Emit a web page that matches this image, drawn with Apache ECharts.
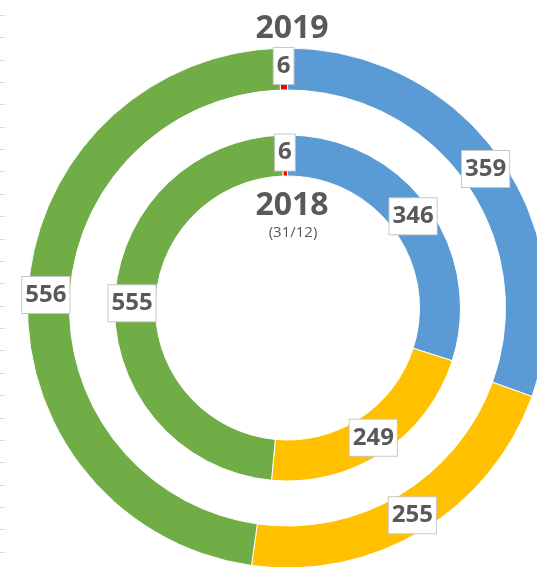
<!DOCTYPE html>
<html>
<head>
<meta charset="utf-8">
<script src="https://cdn.jsdelivr.net/npm/echarts@6/dist/echarts.min.js"></script>
<style>
html,body{margin:0;padding:0;background:#fff;}
#chart{width:537px;height:567px;}
</style>
</head>
<body>
<div id="chart"></div>
<script>
const categories = ['Blue', 'Yellow', 'Green', 'Red'];
const colors = ['#5B9BD5', '#FFC000', '#70AD47', '#FF0000'];
const values2019 = [359, 255, 556, 6];
const values2018 = [346, 249, 555, 6];
const title2019 = '2019';
const title2018 = '2018';
const subtitle2018 = '(31/12)';
const leftTicks = [0,1,2,3,4,5,6,7,8,9,10,11,12,13,14,15,16,17,18,19,20,21,22,23,24];

function toData(vals){
  return vals.map((v,i)=>({name:categories[i], value:v, itemStyle:{color:colors[i]}}));
}

const labelStyle = {
  show: true,
  position: 'inside',
  formatter: '{c}',
  fontFamily: 'Open Sans',
  fontWeight: 'bold',
  fontSize: 24,
  lineHeight: 30,
  color: '#595959',
  backgroundColor: '#ffffff',
  borderColor: '#c8c8c8',
  borderWidth: 1,
  padding: [4, 3, 2, 3]
};

const chart = echarts.init(document.getElementById('chart'), null, {renderer:'canvas'});
chart.setOption({
  animation: false,
  backgroundColor: '#ffffff',
  title: [
    {text: title2019, left: 287, top: 8, textAlign: 'center',
     textStyle: {fontFamily:'Open Sans', fontWeight:'bold', fontSize:32, color:'#595959'}},
    {text: title2018, left: 287, top: 185, textAlign: 'center',
     textStyle: {fontFamily:'Open Sans', fontWeight:'bold', fontSize:32, color:'#595959'}},
    {text: subtitle2018, left: 288, top: 220, textAlign: 'center',
     textStyle: {fontFamily:'Open Sans', fontWeight:'normal', fontSize:15, color:'#595959'}}
  ],
  grid: {left: 0, width: 5, top: 15, height: 537, containLabel: false},
  xAxis: {type: 'value', show: false, min: 0, max: 1},
  yAxis: {type: 'value', min: 0, max: 24, interval: 1,
    axisLine:{show:false}, axisTick:{show:false}, axisLabel:{show:false},
    splitLine:{show:true, lineStyle:{color:'#dcdcdc', width:1}}},
  series: [
    {
      name: '2019', type: 'pie', center: [287.5, 308], radius: [218, 260],
      startAngle: 90, clockwise: true, avoidLabelOverlap: false,
      itemStyle: {borderColor:'#ffffff', borderWidth:1},
      label: labelStyle, labelLine: {show:false},
      emphasis: {disabled: true},
      data: toData(values2019)
    },
    {
      name: '2018', type: 'pie', center: [287.5, 308], radius: [132, 173],
      startAngle: 90, clockwise: true, avoidLabelOverlap: false,
      itemStyle: {borderColor:'#ffffff', borderWidth:1},
      label: labelStyle, labelLine: {show:false},
      emphasis: {disabled: true},
      data: toData(values2018)
    }
  ]
});
</script>
</body>
</html>
